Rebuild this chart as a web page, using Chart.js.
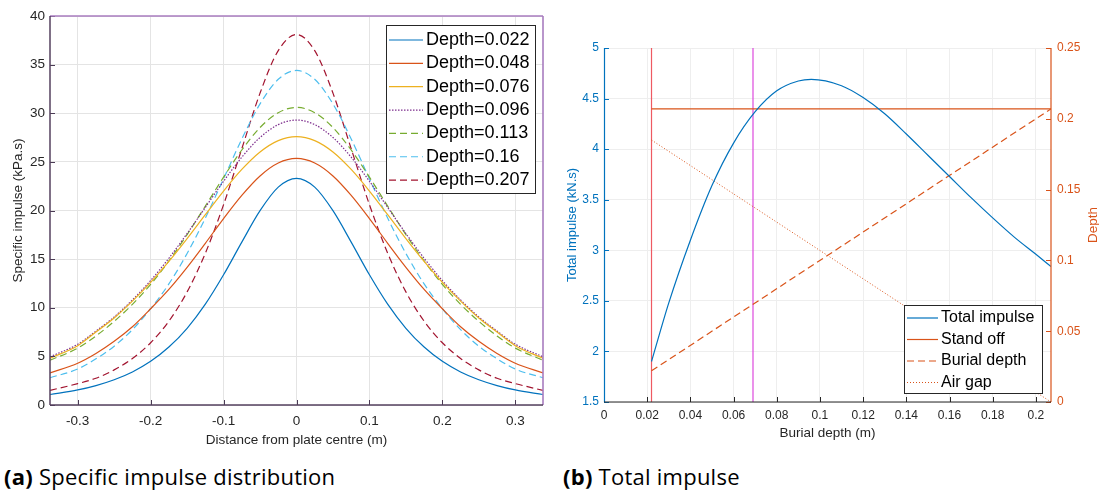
<!DOCTYPE html>
<html>
<head>
<meta charset="utf-8">
<script src="https://cdn.jsdelivr.net/npm/chart.js@4.4.1/dist/chart.umd.min.js"></script>
<style>
  html, body { margin: 0; padding: 0; background: #fff; }
  body { width: 1099px; height: 492px; position: relative; overflow: hidden; }
  canvas { position: absolute; top: 0; }
  #impulseChart { left: 0; }
  #totalChart { left: 560px; }
  .caption { position: absolute; top: 461px; font-family: 'Open Sans', sans-serif; font-size: 22px; letter-spacing: 0.25px; color: #000; white-space: nowrap; }
  .caption b { font-weight: 700; }
</style>
</head>
<body>
<canvas id="impulseChart" width="560" height="452"></canvas>
<canvas id="totalChart" width="539" height="452"></canvas>
<div class="caption" style="left:4px"><b>(a)</b> Specific impulse distribution</div>
<div class="caption" style="left:563px"><b>(b)</b> Total impulse</div>
<script>
// distance from plate centre (m)
const distance = [-0.338, -0.3, -0.275, -0.25, -0.225, -0.2, -0.175, -0.15, -0.125, -0.1, -0.075, -0.05, -0.025, 0,
                  0.025, 0.05, 0.075, 0.1, 0.125, 0.15, 0.175, 0.2, 0.225, 0.25, 0.275, 0.3, 0.338];

// specific impulse (kPa.s) for each burial depth
const impulse022 = [1.08, 1.55, 2.00, 2.60, 3.40, 4.49, 5.96, 7.89, 10.37, 13.39, 16.75, 19.98, 22.40, 23.3,
                    22.40, 19.98, 16.75, 13.39, 10.37, 7.89, 5.96, 4.49, 3.40, 2.60, 2.00, 1.55, 1.08];
const impulse048 = [3.30, 4.30, 5.30, 6.55, 8.05, 9.90, 11.89, 14.16, 16.63, 19.17, 21.55, 23.55, 24.88, 25.35,
                    24.88, 23.55, 21.55, 19.17, 16.63, 14.16, 11.89, 9.90, 8.05, 6.55, 5.30, 4.30, 3.30];
const impulse076 = [4.80, 6.10, 7.50, 8.95, 10.68, 12.6, 14.76, 17.11, 19.57, 22.0, 24.22, 26.02, 27.19, 27.6,
                    27.19, 26.02, 24.22, 22.0, 19.57, 17.11, 14.76, 12.6, 10.68, 8.95, 7.50, 6.10, 4.80];
const impulse096 = [4.95, 6.25, 7.60, 9.05, 10.8, 12.8, 15.09, 17.63, 20.32, 23.01, 25.48, 27.51, 28.83, 29.3,
                    28.83, 27.51, 25.48, 23.01, 20.32, 17.63, 15.09, 12.8, 10.8, 9.05, 7.60, 6.25, 4.95];
const impulse113 = [4.60, 5.85, 7.10, 8.60, 10.35, 12.4, 14.81, 17.52, 20.45, 23.43, 26.22, 28.53, 30.06, 30.6,
                    30.06, 28.53, 26.22, 23.43, 20.45, 17.52, 14.81, 12.4, 10.35, 8.60, 7.10, 5.85, 4.60];
const impulse160 = [2.80, 3.70, 4.75, 6.05, 7.75, 9.90, 12.45, 15.58, 19.22, 23.26, 27.35, 30.96, 33.49, 34.4,
                    33.49, 30.96, 27.35, 23.26, 19.22, 15.58, 12.45, 9.90, 7.75, 6.05, 4.75, 3.70, 2.80];
const impulse207 = [1.50, 2.20, 2.75, 3.61, 4.78, 6.40, 8.62, 11.63, 15.61, 20.6, 26.35, 32.07, 36.44, 38.1,
                    36.44, 32.07, 26.35, 20.6, 15.61, 11.63, 8.62, 6.40, 4.78, 3.61, 2.75, 2.20, 1.50];

const depthLabels = ['Depth=0.022', 'Depth=0.048', 'Depth=0.076', 'Depth=0.096', 'Depth=0.113', 'Depth=0.16', 'Depth=0.207'];
const depthSeries = [impulse022, impulse048, impulse076, impulse096, impulse113, impulse160, impulse207];

// total impulse against burial depth
const burialDepth = [0.022, 0.03, 0.04, 0.05, 0.06, 0.07, 0.08, 0.09, 0.096, 0.11, 0.12, 0.13, 0.14, 0.15,
                     0.16, 0.17, 0.18, 0.19, 0.2, 0.207];
const totalImpulse = [1.90, 2.48, 3.10, 3.64, 4.06, 4.37, 4.577, 4.674, 4.69, 4.627, 4.51, 4.35, 4.15, 3.94,
                      3.73, 3.52, 3.32, 3.13, 2.96, 2.84];

// depth lines (right axis), end points
const depthRange = [0.022, 0.207];
const standOff = [0.207, 0.207];
const burialLine = [0.022, 0.207];
const airGap = [0.185, 0];
const markerDepths = [0.022, 0.069];

const xTicksLeft = [-0.3, -0.2, -0.1, 0, 0.1, 0.2, 0.3];

const FONT = "'Liberation Sans', Arial, sans-serif";
const BLUE = '#0072BD', ORANGE = '#D95319';
Chart.defaults.font.family = FONT;
Chart.defaults.color = '#262626';
Chart.defaults.animation = false;

const depthColors = ['#0072BD', '#D95319', '#EDB120', '#7E2F8E', '#77AC30', '#4DBEEE', '#A2142F'];
const depthDashes = [[], [], [], [1.5, 1.5], [7, 4], [7, 4], [7, 4]];

function fmt(v) {
    const n = +Number(v).toFixed(3);
    return (n === 0 ? 0 : n).toString();
}

function line(ctx, x1, y1, x2, y2, color, width, dash) {
    ctx.save();
    ctx.strokeStyle = color;
    ctx.lineWidth = width;
    ctx.setLineDash(dash || []);
    ctx.beginPath();
    ctx.moveTo(x1, y1);
    ctx.lineTo(x2, y2);
    ctx.stroke();
    ctx.restore();
}

function drawLegend(ctx, box, rows, fontSize) {
    ctx.save();
    ctx.fillStyle = '#fff';
    ctx.fillRect(box.x, box.y, box.w, box.h);
    ctx.strokeStyle = '#262626';
    ctx.lineWidth = 1;
    ctx.strokeRect(box.x + 0.5, box.y + 0.5, box.w, box.h);
    ctx.font = fontSize + 'px ' + FONT;
    ctx.textBaseline = 'middle';
    ctx.fillStyle = '#000';
    rows.forEach((r, i) => {
        const y = box.y + box.first + i * box.step;
        line(ctx, box.x + 3, y, box.x + 3 + box.sample, y, r.color, 1.2, r.dash);
        ctx.fillText(r.label, box.x + box.sample + 6, y);
    });
    ctx.restore();
}

// inward tick marks, box outline and legend for the distribution plot
const impulseDecor = {
    id: 'impulseDecor',
    afterDraw(chart) {
        const { ctx, chartArea: a, scales } = chart;
        xTicksLeft.forEach(v => {
            const px = Math.round(scales.x.getPixelForValue(v)) + 0.5;
            line(ctx, px, a.bottom, px, a.bottom - 5, '#4a3a54', 1);
        });
        scales.y.ticks.forEach(t => {
            const py = Math.round(scales.y.getPixelForValue(t.value)) + 0.5;
            line(ctx, a.left, py, a.left + 5, py, '#4a3a54', 1);
        });
        line(ctx, a.left, a.top, a.right, a.top, '#a87cbf', 1.6);
        line(ctx, a.right, a.top, a.right, a.bottom, '#a87cbf', 1.6);
        line(ctx, a.left, a.top, a.left, a.bottom, '#54405e', 1.5);
        line(ctx, a.left, a.bottom, a.right, a.bottom, '#54405e', 1.5);
        drawLegend(ctx, { x: 386, y: 25, w: 149, h: 168, first: 15, step: 23.35, sample: 34 },
            depthLabels.map((l, i) => ({ label: l, color: depthColors[i], dash: depthDashes[i] })), 18);
    }
};

new Chart(document.getElementById('impulseChart'), {
    type: 'line',
    data: {
        datasets: depthSeries.map((s, i) => ({
            label: depthLabels[i],
            data: distance.map((x, j) => ({ x: x, y: s[j] })),
            borderColor: depthColors[i],
            borderDash: depthDashes[i],
            borderWidth: 1.2,
            pointRadius: 0,
            fill: false,
            cubicInterpolationMode: 'monotone'
        }))
    },
    options: {
        responsive: false,
        layout: { padding: { left: 0, right: 17, top: 16, bottom: 0 } },
        plugins: { legend: { display: false }, tooltip: { enabled: false } },
        scales: {
            x: {
                type: 'linear', min: -0.338, max: 0.338,
                afterFit: s => { s.height = 47; },
                ticks: { stepSize: 0.1, includeBounds: false, callback: fmt, font: { size: 13.5 }, padding: 8, maxRotation: 0 },
                grid: { color: '#e4e4e4', drawTicks: false },
                border: { display: false },
                title: { display: true, text: 'Distance from plate centre (m)', font: { size: 13.5 }, padding: { top: 0, bottom: 4 } }
            },
            y: {
                min: 0, max: 40,
                afterFit: s => { s.width = 50; },
                ticks: { stepSize: 5, callback: fmt, font: { size: 13.5 }, padding: 5 },
                grid: { color: '#e4e4e4', drawTicks: false },
                border: { display: false },
                title: { display: true, text: 'Specific impulse (kPa.s)', font: { size: 13.5 }, padding: { top: 10, bottom: 0 } }
            }
        }
    },
    plugins: [impulseDecor]
});

// ticks, right axis title and legend for the total impulse plot
const totalDecor = {
    id: 'totalDecor',
    afterDraw(chart) {
        const { ctx, chartArea: a, scales } = chart;
        scales.x.ticks.forEach(t => {
            const px = Math.round(scales.x.getPixelForValue(t.value)) + 0.5;
            line(ctx, px, a.bottom, px, a.bottom - 5, '#262626', 1);
        });
        scales.y.ticks.forEach(t => {
            const py = Math.round(scales.y.getPixelForValue(t.value)) + 0.5;
            line(ctx, a.left, py, a.left + 5, py, BLUE, 1);
        });
        scales.y2.ticks.forEach(t => {
            const py = Math.round(scales.y2.getPixelForValue(t.value)) + 0.5;
            line(ctx, a.right, py, a.right - 5, py, ORANGE, 1);
        });
        line(ctx, a.left + 0.5, a.top, a.left + 0.5, a.bottom, BLUE, 1.2);
        line(ctx, a.right, a.top, a.right, a.bottom, ORANGE, 1.2);
        line(ctx, a.left, a.bottom, a.right, a.bottom, '#262626', 1.2);
        ctx.save();
        ctx.translate(533, (a.top + a.bottom) / 2);
        ctx.rotate(-Math.PI / 2);
        ctx.font = '13.5px ' + FONT;
        ctx.fillStyle = ORANGE;
        ctx.textAlign = 'center';
        ctx.textBaseline = 'middle';
        ctx.fillText('Depth', 0, 0);
        ctx.restore();
        const ds = chart.data.datasets.slice(0, 4);
        drawLegend(ctx, { x: 344, y: 305, w: 138, h: 88, first: 13, step: 21.5, sample: 31 },
            ds.map(d => ({ label: d.label, color: d.borderColor, dash: d.borderDash })), 16);
    }
};

const pts = (xs, ys) => xs.map((x, i) => ({ x: x, y: ys[i] }));

new Chart(document.getElementById('totalChart'), {
    type: 'line',
    data: {
        datasets: [
            { label: 'Total impulse', data: pts(burialDepth, totalImpulse), yAxisID: 'y', borderColor: BLUE, borderDash: [],
              borderWidth: 1.2, pointRadius: 0, cubicInterpolationMode: 'monotone' },
            { label: 'Stand off', data: pts(depthRange, standOff), yAxisID: 'y2', borderColor: ORANGE, borderDash: [],
              borderWidth: 1.2, pointRadius: 0 },
            { label: 'Burial depth', data: pts(depthRange, burialLine), yAxisID: 'y2', borderColor: ORANGE, borderDash: [7, 4],
              borderWidth: 1.2, pointRadius: 0 },
            { label: 'Air gap', data: pts(depthRange, airGap), yAxisID: 'y2', borderColor: ORANGE, borderDash: [1, 2],
              borderWidth: 1, pointRadius: 0 },
            { label: 'marker', data: [{ x: markerDepths[0], y: 1.5 }, { x: markerDepths[0], y: 5 }], yAxisID: 'y',
              borderColor: '#ee5a62', borderWidth: 1.2, pointRadius: 0 },
            { label: 'marker', data: [{ x: markerDepths[1], y: 1.5 }, { x: markerDepths[1], y: 5 }], yAxisID: 'y',
              borderColor: '#dd48dd', borderWidth: 1.2, pointRadius: 0 }
        ]
    },
    options: {
        responsive: false,
        layout: { padding: { left: 0, right: 0, top: 48, bottom: 0 } },
        plugins: { legend: { display: false }, tooltip: { enabled: false } },
        scales: {
            x: {
                type: 'linear', min: 0, max: 0.207,
                afterFit: s => { s.height = 50; },
                ticks: { stepSize: 0.02, includeBounds: false, callback: fmt, font: { size: 12 }, padding: 6, maxRotation: 0 },
                grid: { color: '#eeeeee', drawTicks: false },
                border: { display: false },
                title: { display: true, text: 'Burial depth (m)', font: { size: 13.5 }, padding: { top: 0, bottom: 11 } }
            },
            y: {
                position: 'left', min: 1.5, max: 5,
                afterFit: s => { s.width = 44; },
                ticks: { stepSize: 0.5, callback: fmt, font: { size: 12 }, padding: 5, color: BLUE },
                grid: { color: '#eeeeee', drawTicks: false },
                border: { display: false },
                title: { display: true, text: 'Total impulse (kN.s)', color: BLUE, font: { size: 13 }, padding: { top: 5, bottom: 0 } }
            },
            y2: {
                position: 'right', min: 0, max: 0.25,
                afterFit: s => { s.width = 48; },
                ticks: { stepSize: 0.05, callback: fmt, font: { size: 12 }, padding: 6, color: ORANGE },
                grid: { display: false, drawTicks: false },
                border: { display: false }
            }
        }
    },
    plugins: [totalDecor]
});
</script>
</body>
</html>
